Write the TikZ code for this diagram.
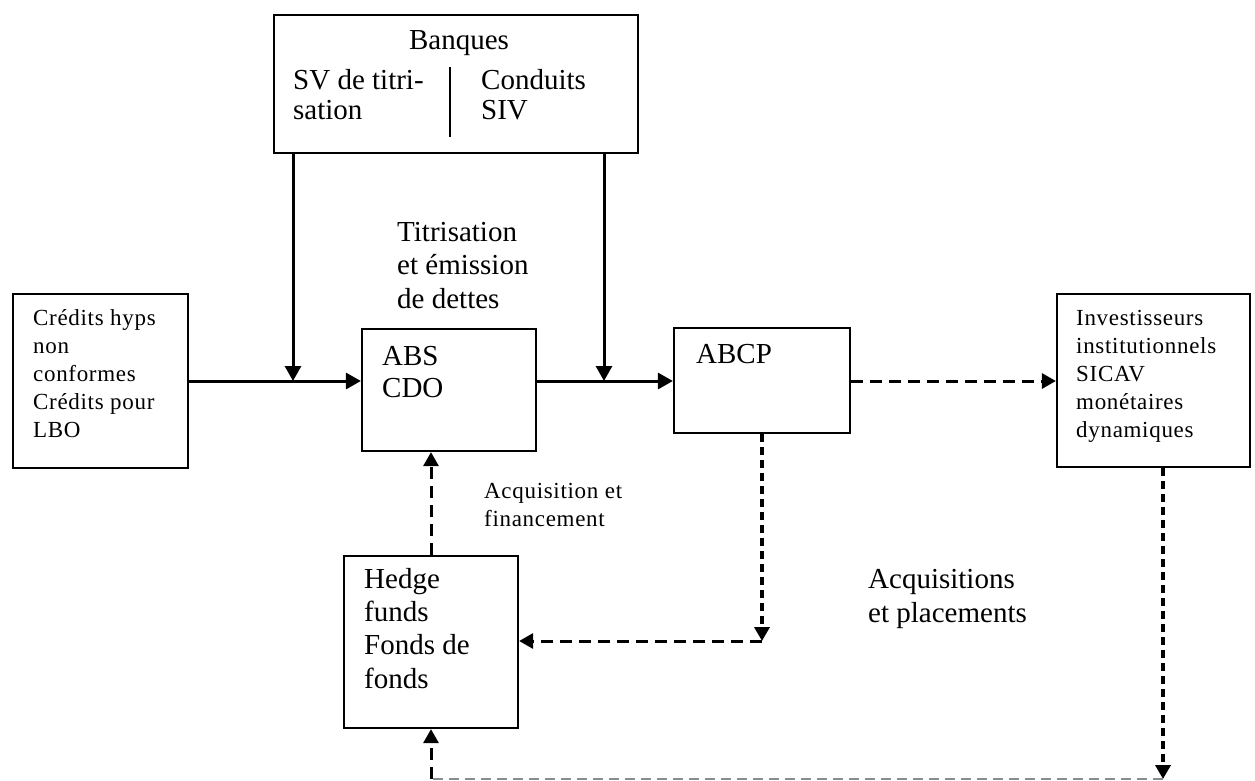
\documentclass[tikz,border=0pt]{standalone}
\usepackage{fontspec}
\setmainfont{Liberation Serif}
\newfontfamily\smallserif{Liberation Serif}[LetterSpace=3]
\usetikzlibrary{arrows.meta}
\begin{document}
\begin{tikzpicture}[x=1pt,y=-1pt,
  box/.style={draw, line width=2.2pt, rectangle, inner sep=0pt},
  bigtxt/.style={font=\fontsize{29}{33.5}\selectfont, align=left, anchor=base west, inner sep=0pt},
  smalltxt/.style={font=\smallserif\fontsize{23}{28}\selectfont, align=left, anchor=base west, inner sep=0pt},
  solidarrow/.style={line width=3pt, -{Triangle[length=15pt,width=16pt]}},
  dasharrow/.style={line width=3pt, dash pattern=on 12pt off 7pt, -{Triangle[length=14pt,width=15pt]}},
  dotarrow/.style={line width=4pt, dash pattern=on 8pt off 5pt, -{Triangle[length=14pt,width=15pt]}},
  graydash/.style={line width=2pt, draw=black!45, dash pattern=on 10pt off 6pt}
]
\useasboundingbox (0,0) rectangle (1255,780);

% boxes
\node[box, minimum width=364pt, minimum height=138pt] (banq) at (456,84) {};
\node[box, minimum width=175pt, minimum height=174pt] (cred) at (100.5,381) {};
\node[box, minimum width=174pt, minimum height=122pt] (abs) at (449,390) {};
\node[box, minimum width=176pt, minimum height=105pt] (abcp) at (762,380.5) {};
\node[box, minimum width=193pt, minimum height=173pt] (inv) at (1153.5,380.5) {};
\node[box, minimum width=174pt, minimum height=172pt] (hedge) at (431,642) {};

% divider inside Banques
\draw[line width=2pt] (450,67) -- (450,137);

% texts (anchor base = baseline of the last line)
\node[font=\fontsize{29}{33.5}\selectfont, anchor=base, inner sep=0pt] (tbanq) at (459,49) {Banques};
\node[bigtxt, font=\fontsize{29}{30}\selectfont] (tsv) at (293,119) {SV de titri-\\sation};
\node[bigtxt, font=\fontsize{29}{30}\selectfont] (tcond) at (481,119) {Conduits\\SIV};
\node[bigtxt] (ttitr) at (397,308) {Titrisation\\et émission\\de dettes};
\node[bigtxt, font=\fontsize{29}{32}\selectfont] (tabs) at (382,397) {ABS\\CDO};
\node[bigtxt] (tabcp) at (696,363) {ABCP};
\node[bigtxt, font=\fontsize{29}{33.3}\selectfont] (thedge) at (364,688) {Hedge\\funds\\Fonds de\\fonds};
\node[bigtxt, font=\fontsize{29}{34}\selectfont] (tacqp) at (868,622) {Acquisitions\\et placements};
\node[smalltxt] (tcred) at (33,437) {Crédits hyps\\non\\conformes\\Crédits pour\\LBO};
\node[smalltxt] (tinv) at (1076,437) {Investisseurs\\institutionnels\\SICAV\\monétaires\\dynamiques};
\node[smalltxt] (tacqf) at (484,526) {Acquisition et\\financement};

% coordinates for connector bends
\coordinate (b1) at (293,381);
\coordinate (b2) at (604,381);
\coordinate (ac) at (762,641);
\coordinate (ic) at (1163,779);
\coordinate (hx) at (431,779);

% solid arrows
\draw[solidarrow] (banq.south -| b1) -- (b1);
\draw[solidarrow] (banq.south -| b2) -- (b2);
\draw[solidarrow] (cred.east |- b1) -- (abs.west |- b1);
\draw[solidarrow] (abs.east |- b1) -- (abcp.west |- b1);

% dashed arrows
\draw[dasharrow] (abcp.east |- b1) -- (inv.west |- b1);
\draw[dasharrow] (hedge.north -| hx) -- (abs.south -| hx);
\draw[dotarrow] (abcp.south -| ac) -- (ac);
\draw[dasharrow] (ac) -- (hedge.east |- ac);
\draw[dotarrow] (inv.south -| ic) -- (ic);
\draw[graydash] (ic) -- (hx);
\draw[dasharrow] (hx) -- (hedge.south -| hx);
\end{tikzpicture}
\end{document}
